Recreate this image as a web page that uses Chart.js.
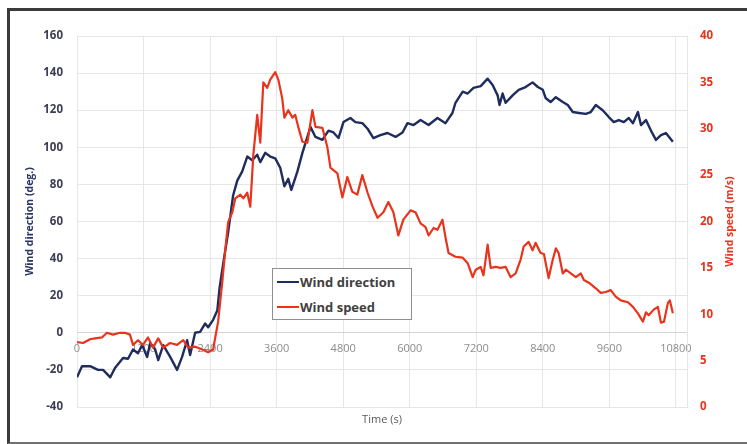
<!DOCTYPE html>
<html>
<head>
<meta charset="utf-8">
<script src="https://cdn.jsdelivr.net/npm/chart.js@4.4.1/dist/chart.umd.min.js"></script>
<style>
  html, body { margin: 0; padding: 0; background: #fff; overflow: hidden; width: 747px; height: 444px; }
  #wrap { position: absolute; left: 0; top: 0; width: 747px; height: 444px; }
  #frame {
    position: absolute; left: 7px; top: 8px; width: 760px; height: 431px;
    border-top: 3px solid #3a3a3a; border-left: 3px solid #3a3a3a; border-bottom: 2px solid #707070;
    border-right: none;
    pointer-events: none;
  }
  #legend {
    position: absolute; left: 272px; top: 268px; width: 138px; height: 50px;
    border: 1px solid #8f8f8f; background: #fff;
    font: bold 13px 'Open Sans', sans-serif; color: #404040;
  }
  #legend .row { display: flex; align-items: center; height: 25px; }
  #legend .swatch { width: 22px; height: 2px; margin-left: 4px; margin-right: 1px; }
</style>
</head>
<body>
<div id="wrap"><canvas id="chart"></canvas></div>
<div id="frame"></div>
<div id="legend"></div>
<script>
// time (s) and wind direction (deg.)
const timeDirection = [0, 90, 235, 380, 470, 600, 685, 830, 920, 1010, 1100, 1175, 1265, 1320, 1410, 1465, 1555, 1680, 1805, 1895,
  1985, 2040, 2130, 2220, 2310, 2365, 2455, 2530, 2570, 2640, 2725, 2815, 2890, 2980, 3070, 3160, 3250, 3305, 3395, 3485,
  3575, 3665, 3740, 3810, 3865, 3975, 4065, 4210, 4300, 4425, 4535, 4625, 4715, 4805, 4930, 5020, 5145, 5240, 5345, 5470,
  5600, 5745, 5870, 5960, 6070, 6195, 6340, 6500, 6645, 6770, 6825, 6955, 7045, 7150, 7280, 7405, 7495, 7585, 7620, 7675,
  7730, 7855, 7965, 8090, 8215, 8310, 8400, 8450, 8540, 8635, 8760, 8850, 8940, 9050, 9175, 9265, 9355, 9480, 9590, 9680,
  9770, 9860, 9950, 10025, 10115, 10170, 10260, 10350, 10440, 10530, 10620, 10745];
const windDirection = [-24, -18, -18, -20, -20, -24, -19, -13.6, -14, -9, -11, -6.6, -13, -5.5, -9, -14.7, -6.6, -13, -20, -13,
  -4, -12, 0, 0.5, 5, 3, 7, 12, 24, 38, 54, 74, 82, 87, 95, 93, 96, 92, 97, 95,
  94, 89, 79, 83, 77, 87, 97, 111, 105.6, 104, 109, 108, 105, 113.6, 115.8, 113.6, 113, 110, 105, 106.6,
  107.7, 105.6, 108, 113, 112, 114.7, 112, 115.8, 113, 118.5, 124, 130, 129, 132, 133, 137, 133.6, 128, 122.8, 129,
  124, 128, 131, 132.5, 135, 132.5, 131, 126.6, 124.4, 127, 124.4, 122.8, 119, 118.5, 118, 119, 122.8, 120, 116.3, 113.6,
  114.7, 113.6, 115.8, 113, 119, 112, 114.7, 109, 104, 106.6, 107.7, 103];

// time (s) and wind speed (m/s)
const timeSpeed = [0, 110, 235, 325, 450, 540, 650, 775, 865, 955, 1010, 1100, 1190, 1280, 1370, 1465, 1555, 1680, 1805, 1915,
  2005, 2130, 2260, 2365, 2455, 2490, 2545, 2620, 2670, 2725, 2800, 2855, 2945, 3000, 3070, 3125, 3180, 3250, 3305, 3360,
  3430, 3485, 3575, 3630, 3700, 3740, 3810, 3885, 3935, 3990, 4065, 4155, 4245, 4300, 4425, 4515, 4570, 4695, 4785, 4875,
  4965, 5055, 5145, 5240, 5330, 5420, 5525, 5615, 5705, 5795, 5885, 6015, 6105, 6195, 6285, 6340, 6430, 6500, 6590, 6645,
  6700, 6825, 6955, 7045, 7135, 7190, 7280, 7330, 7405, 7460, 7550, 7640, 7730, 7820, 7910, 8000, 8055, 8145, 8215, 8270,
  8360, 8420, 8505, 8580, 8635, 8685, 8760, 8815, 8905, 8995, 9085, 9140, 9230, 9355, 9445, 9535, 9625, 9715, 9805, 9935,
  10025, 10115, 10205, 10260, 10310, 10400, 10475, 10530, 10585, 10655, 10690, 10745];
const windSpeed = [7.0, 6.9, 7.3, 7.4, 7.5, 8.0, 7.8, 8.0, 8.0, 7.8, 6.7, 7.2, 6.7, 7.5, 6.4, 7.4, 6.4, 6.9, 6.7, 7.2,
  6.4, 6.5, 6.2, 5.9, 6.2, 7.4, 9.2, 13.5, 16.7, 19.9, 21, 22.5, 22.9, 22.5, 23.1, 21.6, 27.2, 31.5, 28.5, 35,
  34.4, 35.3, 36.1, 35.3, 33.3, 31.2, 32, 31.2, 31.5, 30.2, 28.6, 28.5, 32, 30.2, 30.1, 28, 25.8, 25.2, 22.6, 24.8,
  23.2, 22.9, 25, 23.1, 21.6, 20.4, 21, 22.1, 21, 18.5, 20.2, 21.2, 21, 19.8, 19.4, 18.5, 19.3, 19.1, 20.2, 18.3,
  16.6, 16.2, 16.1, 15.5, 14, 14.8, 15.1, 14.2, 17.5, 15, 15.1, 15, 15.1, 14, 14.4, 15.9, 17.3, 17.8, 16.9, 17.7,
  16.6, 16.5, 13.9, 15.9, 17.1, 16.6, 14.4, 14.8, 14.4, 14, 14.4, 13.7, 13.4, 12.8, 12.3, 12.4, 12.6, 11.9, 11.5, 11.3,
  10.8, 10.1, 9.2, 10.2, 9.9, 10.5, 10.8, 9.1, 9.2, 11.2, 11.5, 10.1];

const xTickValues = [0, 1200, 2400, 3600, 4800, 6000, 7200, 8400, 9600, 10800];

const NAVY = '#1f2d5e';
const RED = '#e8341c';

const htmlLegend = {
  id: 'htmlLegend',
  afterUpdate(chart) {
    const box = document.getElementById('legend');
    box.innerHTML = '';
    chart.data.datasets.forEach((ds) => {
      const row = document.createElement('div');
      row.className = 'row';
      const sw = document.createElement('span');
      sw.className = 'swatch';
      sw.style.background = ds.borderColor;
      const txt = document.createElement('span');
      txt.textContent = ds.label;
      row.appendChild(sw);
      row.appendChild(txt);
      box.appendChild(row);
    });
  },
};

// Excel-style right title, read bottom-to-top like the left one
const rightTitle = {
  id: 'rightTitle',
  afterDraw(chart) {
    const { ctx, chartArea, scales } = chart;
    ctx.save();
    ctx.translate(scales.y1.right - 17, (chartArea.top + chartArea.bottom) / 2);
    ctx.rotate(-Math.PI / 2);
    ctx.font = "bold 10.5px 'Open Sans', sans-serif";
    ctx.fillStyle = RED;
    ctx.textAlign = 'center';
    ctx.textBaseline = 'middle';
    ctx.fillText('Wind speed (m/s)', 0, 0);
    ctx.restore();
  },
};

new Chart(document.getElementById('chart'), {
  type: 'line',
  data: {
    datasets: [
      {
        label: 'Wind direction',
        data: timeDirection.map((t, i) => ({ x: t, y: windDirection[i] })),
        borderColor: NAVY,
        backgroundColor: NAVY,
        borderWidth: 2.4,
        pointRadius: 0,
        yAxisID: 'y',
        order: 1,
      },
      {
        label: 'Wind speed',
        data: timeSpeed.map((t, i) => ({ x: t, y: windSpeed[i] })),
        borderColor: RED,
        backgroundColor: RED,
        borderWidth: 2.2,
        pointRadius: 0,
        yAxisID: 'y1',
        order: 0,
      },
    ],
  },
  plugins: [htmlLegend, rightTitle],
  options: {
    responsive: true,
    maintainAspectRatio: false,
    animation: false,
    layout: { padding: { top: 36, left: 0, right: 0, bottom: 0 } },
    plugins: {
      legend: { display: false },
      tooltip: { enabled: false },
    },
    elements: { line: { tension: 0, borderJoinStyle: 'round' } },
    scales: {
      x: {
        type: 'linear',
        position: { y: 0 },
        min: 0,
        max: 11000,
        afterBuildTicks: (axis) => { axis.ticks = xTickValues.map((v) => ({ value: v })); },
        ticks: {
          color: '#8c8c8c',
          font: { family: "'Open Sans', sans-serif", size: 11 },
          padding: 9,
          maxRotation: 0,
          autoSkip: false,
          callback: (v) => String(v),
        },
        grid: { color: '#e6e6e6', drawTicks: false },
        border: { color: '#d6d6d6' },
      },
      xb: {
        type: 'linear',
        position: 'bottom',
        min: 0,
        max: 11000,
        ticks: { display: false },
        grid: { display: false },
        border: { display: false },
        title: {
          display: true,
          text: 'Time (s)',
          color: '#595959',
          font: { family: "'Open Sans', sans-serif", size: 11 },
          padding: { top: 0, bottom: 18 },
        },
        afterFit: (scale) => { scale.height = 37; },
      },
      y: {
        position: 'left',
        min: -40,
        max: 160,
        ticks: {
          stepSize: 20,
          color: '#3d3d55',
          font: { family: "'Open Sans', sans-serif", size: 11.5, weight: 'bold' },
          padding: 14,
        },
        grid: { color: '#e6e6e6', drawTicks: false },
        border: { display: false },
        title: {
          display: true,
          text: 'Wind direction (deg.)',
          color: '#2b3567',
          font: { family: "'Open Sans', sans-serif", size: 10.5, weight: 'bold' },
          padding: { top: 24, bottom: 0 },
        },
        afterFit: (scale) => { scale.width = 77; },
      },
      y1: {
        position: 'right',
        min: 0,
        max: 40,
        ticks: {
          stepSize: 5,
          color: RED,
          font: { family: "'Open Sans', sans-serif", size: 11.5, weight: 'bold' },
          padding: 13,
        },
        grid: { drawOnChartArea: false, drawTicks: false },
        border: { color: '#e6e6e6' },
        afterFit: (scale) => { scale.width = 60; },
      },
    },
  },
});
</script>
</body>
</html>
